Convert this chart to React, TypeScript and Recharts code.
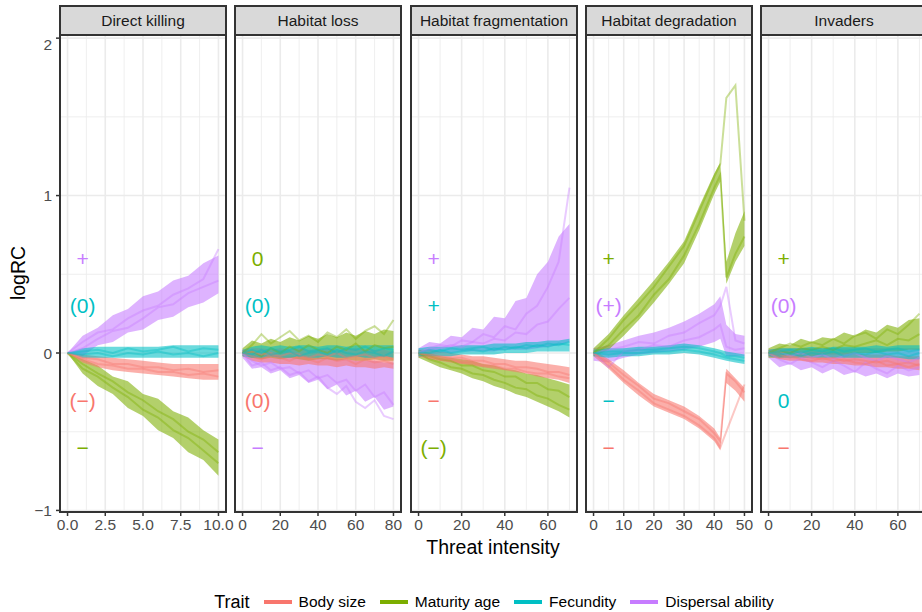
import { ComposedChart, Area, Line, XAxis, YAxis, CartesianGrid, ReferenceDot } from 'recharts';

// ggplot default hue palette for 4 groups
const COLORS: Record<string, string> = {
    body: '#F8766D',
    maturity: '#7CAE00',
    fecundity: '#00BFC4',
    dispersal: '#C77CFF',
};
const TRAIT_NAMES: Record<string, string> = {
    body: 'Body size',
    maturity: 'Maturity age',
    fecundity: 'Fecundity',
    dispersal: 'Dispersal ability',
};
const LEGEND_ORDER = ['body', 'maturity', 'fecundity', 'dispersal'];
const DRAW_ORDER = ['dispersal', 'maturity', 'body', 'fecundity'];

const FONT = '"Liberation Sans", Arial, Helvetica, sans-serif';

// y axis
const Y_DOMAIN: [number, number] = [-1.01, 2.02];
const Y_MAJOR = [-1, 0, 1, 2];
const Y_MINOR = [-0.5, 0.5, 1.5];
const LABEL_Y = [0.6, 0.3, -0.3, -0.6];

// each trait: [lower edge, upper edge, replicate 1, replicate 2]

// --- Direct killing
const killX = [0, 1, 2, 3, 4, 5, 6, 7, 8, 9, 10];
const killDisp = [
    [0, -0.02, 0.05, 0.07, 0.13, 0.15, 0.21, 0.23, 0.29, 0.32, 0.38],
    [0, 0.11, 0.16, 0.24, 0.28, 0.36, 0.39, 0.46, 0.49, 0.57, 0.62],
    [0, 0.07, 0.13, 0.15, 0.22, 0.27, 0.3, 0.37, 0.41, 0.47, 0.66],
    [0, 0.03, 0.09, 0.14, 0.16, 0.22, 0.29, 0.31, 0.38, 0.42, 0.46],
];
const killFec = [
    [0, -0.03, -0.03, -0.03, -0.03, -0.03, -0.03, -0.03, -0.03, -0.03, -0.03],
    [0, 0.03, 0.04, 0.04, 0.04, 0.04, 0.04, 0.05, 0.05, 0.05, 0.05],
    [0, 0.01, 0.02, 0.0, 0.03, 0.01, 0.02, 0.04, 0.01, 0.03, 0.02],
    [0, -0.01, 0.0, -0.02, 0.0, -0.01, 0.01, -0.01, 0.0, -0.02, 0.0],
];
const killBody = [
    [0, -0.06, -0.09, -0.11, -0.12, -0.13, -0.14, -0.15, -0.16, -0.17, -0.17],
    [0, -0.01, -0.02, -0.03, -0.04, -0.05, -0.06, -0.07, -0.07, -0.07, -0.07],
    [0, -0.03, -0.04, -0.07, -0.07, -0.09, -0.09, -0.11, -0.1, -0.12, -0.11],
    [0, -0.04, -0.07, -0.08, -0.1, -0.1, -0.12, -0.12, -0.14, -0.13, -0.15],
];
const killMat = [
    [0, -0.13, -0.21, -0.26, -0.35, -0.4, -0.49, -0.54, -0.63, -0.68, -0.78],
    [0, -0.04, -0.08, -0.15, -0.18, -0.26, -0.29, -0.37, -0.41, -0.49, -0.55],
    [0, -0.07, -0.13, -0.18, -0.25, -0.3, -0.37, -0.42, -0.5, -0.55, -0.63],
    [0, -0.1, -0.15, -0.22, -0.28, -0.36, -0.41, -0.49, -0.54, -0.62, -0.7],
];

// --- Habitat loss
const lossX = [0, 5, 10, 15, 20, 25, 30, 35, 40, 45, 50, 55, 60, 65, 70, 75, 80];
const lossMat = [
    [-0.02, -0.03, -0.04, -0.03, -0.04, -0.03, -0.04, -0.05, -0.04, -0.04, -0.05, -0.04, -0.05, -0.05, -0.04, -0.05, -0.05],
    [0.03, 0.08, 0.06, 0.09, 0.07, 0.1, 0.08, 0.11, 0.09, 0.12, 0.1, 0.13, 0.11, 0.14, 0.12, 0.15, 0.14],
    [0, 0.05, 0.12, 0.06, 0.1, 0.14, 0.08, 0.11, 0.07, 0.13, 0.1, 0.15, 0.09, 0.14, 0.17, 0.12, 0.21],
    [0, 0.01, -0.02, 0.03, 0.0, 0.04, 0.01, 0.05, 0.02, 0.0, 0.04, 0.02, 0.06, 0.01, 0.05, 0.03, 0.04],
];
const lossFec = [
    [-0.02, -0.03, -0.03, -0.02, -0.03, -0.03, -0.02, -0.03, -0.03, -0.02, -0.03, -0.03, -0.02, -0.03, -0.03, -0.02, -0.03],
    [0.02, 0.04, 0.05, 0.04, 0.05, 0.04, 0.05, 0.05, 0.04, 0.05, 0.05, 0.04, 0.05, 0.05, 0.05, 0.05, 0.05],
    [0, 0.02, 0.0, 0.03, 0.01, 0.02, 0.04, 0.01, 0.02, 0.03, 0.0, 0.03, 0.02, 0.04, 0.01, 0.03, 0.02],
    [0, -0.01, 0.02, -0.01, 0.0, 0.01, -0.02, 0.0, 0.01, -0.01, 0.02, 0.0, -0.01, 0.01, 0.0, -0.02, 0.01],
];
const lossBody = [
    [-0.02, -0.05, -0.06, -0.06, -0.07, -0.07, -0.08, -0.07, -0.08, -0.08, -0.09, -0.08, -0.09, -0.09, -0.1, -0.09, -0.1],
    [0.02, 0.03, 0.03, 0.02, 0.03, 0.02, 0.03, 0.02, 0.02, 0.03, 0.02, 0.02, 0.03, 0.02, 0.02, 0.02, 0.01],
    [0, -0.02, -0.04, -0.01, -0.03, -0.05, -0.02, -0.04, -0.06, -0.03, -0.05, -0.04, -0.07, -0.04, -0.06, -0.05, -0.07],
    [0, 0.01, -0.01, 0.0, -0.02, 0.0, -0.01, -0.03, -0.01, -0.02, 0.0, -0.03, -0.02, -0.01, -0.03, -0.02, -0.04],
];
const lossDisp = [
    [-0.03, -0.1, -0.09, -0.13, -0.11, -0.16, -0.14, -0.19, -0.17, -0.23, -0.2, -0.27, -0.24, -0.31, -0.28, -0.36, -0.34],
    [0.02, 0.0, -0.01, -0.01, -0.02, -0.02, -0.02, -0.03, -0.03, -0.03, -0.04, -0.04, -0.05, -0.05, -0.05, -0.06, -0.06],
    [0, -0.05, -0.08, -0.06, -0.1, -0.09, -0.13, -0.11, -0.16, -0.14, -0.19, -0.17, -0.24, -0.2, -0.28, -0.25, -0.33],
    [0, -0.08, -0.06, -0.11, -0.09, -0.14, -0.12, -0.18, -0.15, -0.22, -0.26, -0.21, -0.31, -0.35, -0.3, -0.4, -0.42],
];

// --- Habitat fragmentation
const fragX = [0, 5, 10, 15, 20, 25, 30, 35, 40, 45, 50, 55, 60, 65, 70];
const fragFec = [
    [-0.02, -0.02, -0.02, -0.02, -0.01, -0.01, -0.01, -0.01, 0.0, 0.0, 0.0, 0.01, 0.01, 0.01, 0.01],
    [0.03, 0.04, 0.04, 0.04, 0.05, 0.05, 0.05, 0.06, 0.06, 0.06, 0.07, 0.07, 0.08, 0.08, 0.09],
    [0, 0.02, 0.01, 0.03, 0.02, 0.03, 0.04, 0.02, 0.04, 0.03, 0.05, 0.04, 0.06, 0.05, 0.07],
    [0, 0.0, 0.02, 0.0, 0.01, 0.02, 0.01, 0.03, 0.02, 0.04, 0.03, 0.05, 0.04, 0.06, 0.05],
];
const fragBody = [
    [-0.02, -0.04, -0.05, -0.06, -0.07, -0.08, -0.09, -0.1, -0.11, -0.12, -0.13, -0.15, -0.16, -0.17, -0.19],
    [0.02, 0.02, 0.01, 0.0, -0.01, -0.02, -0.02, -0.03, -0.04, -0.05, -0.05, -0.06, -0.07, -0.08, -0.09],
    [0, -0.01, -0.02, -0.03, -0.03, -0.05, -0.05, -0.07, -0.07, -0.09, -0.09, -0.1, -0.12, -0.12, -0.14],
    [0, -0.02, -0.04, -0.04, -0.06, -0.06, -0.08, -0.08, -0.1, -0.1, -0.12, -0.13, -0.13, -0.15, -0.16],
];
const fragMat = [
    [-0.03, -0.06, -0.09, -0.11, -0.13, -0.16, -0.18, -0.21, -0.23, -0.26, -0.28, -0.31, -0.34, -0.37, -0.41],
    [0.02, 0.0, -0.02, -0.03, -0.04, -0.05, -0.07, -0.08, -0.1, -0.11, -0.13, -0.14, -0.16, -0.18, -0.2],
    [0, -0.02, -0.04, -0.05, -0.08, -0.08, -0.11, -0.12, -0.15, -0.15, -0.19, -0.19, -0.23, -0.24, -0.28],
    [0, -0.04, -0.06, -0.09, -0.1, -0.13, -0.14, -0.17, -0.19, -0.22, -0.23, -0.27, -0.29, -0.33, -0.36],
];
const fragDisp = [
    [-0.03, -0.01, 0.0, 0.0, 0.01, 0.01, 0.01, 0.01, 0.02, 0.02, 0.02, 0.03, 0.04, 0.05, 0.07],
    [0.03, 0.07, 0.06, 0.11, 0.1, 0.16, 0.15, 0.23, 0.22, 0.33, 0.35, 0.5, 0.58, 0.74, 0.82],
    [0, 0.03, 0.05, 0.04, 0.08, 0.07, 0.12, 0.1, 0.17, 0.15, 0.25, 0.3, 0.42, 0.58, 1.05],
    [0, 0.02, 0.03, 0.05, 0.04, 0.07, 0.06, 0.09, 0.08, 0.13, 0.12, 0.18, 0.2, 0.28, 0.35],
];

// --- Habitat degradation
const degX = [0, 5, 10, 15, 20, 25, 30, 35, 40, 42, 44, 47, 50];
const degMat = [
    [-0.02, 0.02, 0.11, 0.21, 0.32, 0.44, 0.57, 0.78, 1.01, 1.09, 0.44, 0.58, 0.68],
    [0.03, 0.12, 0.24, 0.35, 0.46, 0.58, 0.71, 0.93, 1.14, 1.21, 0.58, 0.76, 0.9],
    [0, 0.05, 0.15, 0.24, 0.37, 0.47, 0.62, 0.82, 1.05, 1.13, 0.48, 0.63, 0.74],
    [0, 0.09, 0.21, 0.31, 0.42, 0.55, 0.68, 0.9, 1.12, 1.2, 1.62, 1.7, 0.84],
];
const degBody = [
    [-0.02, -0.1, -0.19, -0.27, -0.34, -0.38, -0.42, -0.48, -0.56, -0.62, -0.19, -0.24, -0.31],
    [0.02, -0.04, -0.11, -0.19, -0.26, -0.3, -0.34, -0.4, -0.48, -0.54, -0.1, -0.16, -0.22],
    [0, -0.06, -0.14, -0.21, -0.29, -0.32, -0.37, -0.42, -0.51, -0.56, -0.13, -0.18, -0.25],
    [0, -0.08, -0.17, -0.24, -0.32, -0.36, -0.4, -0.46, -0.54, -0.6, -0.5, -0.35, -0.2],
];
const degFec = [
    [-0.02, -0.03, -0.02, -0.02, -0.01, -0.01, 0.0, -0.01, -0.03, -0.04, -0.05, -0.06, -0.07],
    [0.02, 0.03, 0.03, 0.04, 0.04, 0.05, 0.06, 0.05, 0.03, 0.02, 0.01, 0.0, -0.01],
    [0, 0.01, 0.01, 0.02, 0.02, 0.03, 0.04, 0.03, 0.01, 0.0, -0.02, -0.02, -0.03],
    [0, -0.01, 0.0, 0.0, 0.01, 0.01, 0.02, 0.01, -0.01, -0.02, -0.03, -0.04, -0.05],
];
const degDisp = [
    [-0.05, -0.06, -0.03, -0.01, 0.0, 0.01, 0.02, 0.04, 0.07, 0.09, -0.02, -0.02, -0.02],
    [0.03, 0.05, 0.08, 0.11, 0.13, 0.16, 0.2, 0.25, 0.31, 0.36, 0.18, 0.12, 0.11],
    [0, 0.02, 0.04, 0.07, 0.06, 0.11, 0.13, 0.19, 0.24, 0.3, 0.42, 0.08, 0.06],
    [0, -0.09, 0.01, 0.02, 0.05, 0.04, 0.08, 0.1, 0.15, 0.18, 0.04, 0.02, 0.03],
];

// --- Invaders
const invX = [0, 5, 10, 15, 20, 25, 30, 35, 40, 45, 50, 55, 60, 65, 70];
const invMat = [
    [-0.03, -0.03, -0.02, -0.02, -0.02, -0.01, -0.01, -0.01, 0.0, 0.0, 0.0, 0.01, 0.01, 0.02, 0.02],
    [0.03, 0.06, 0.05, 0.09, 0.07, 0.1, 0.09, 0.13, 0.11, 0.15, 0.13, 0.18, 0.16, 0.21, 0.22],
    [0, 0.03, 0.06, 0.04, 0.07, 0.05, 0.09, 0.06, 0.11, 0.13, 0.09, 0.15, 0.12, 0.18, 0.25],
    [0, 0.01, 0.0, 0.03, 0.02, 0.04, 0.02, 0.05, 0.04, 0.06, 0.08, 0.05, 0.09, 0.08, 0.12],
];
const invFec = [
    [-0.02, -0.03, -0.03, -0.03, -0.03, -0.03, -0.03, -0.03, -0.03, -0.03, -0.03, -0.03, -0.03, -0.04, -0.04],
    [0.02, 0.03, 0.03, 0.03, 0.04, 0.03, 0.04, 0.04, 0.04, 0.04, 0.05, 0.04, 0.05, 0.05, 0.05],
    [0, 0.01, 0.02, 0.0, 0.02, 0.01, 0.03, 0.01, 0.02, 0.03, 0.01, 0.02, 0.03, 0.01, 0.02],
    [0, -0.01, 0.0, -0.02, 0.0, -0.01, 0.01, -0.02, 0.0, -0.01, 0.01, -0.01, 0.0, -0.02, 0.0],
];
const invBody = [
    [-0.02, -0.04, -0.05, -0.05, -0.06, -0.06, -0.07, -0.07, -0.08, -0.08, -0.09, -0.09, -0.1, -0.1, -0.11],
    [0.02, 0.02, 0.02, 0.01, 0.01, 0.01, 0.0, 0.0, 0.0, -0.01, -0.01, -0.01, -0.02, -0.02, -0.02],
    [0, -0.01, -0.03, -0.02, -0.03, -0.04, -0.03, -0.05, -0.04, -0.05, -0.06, -0.05, -0.07, -0.06, -0.08],
    [0, -0.03, -0.02, -0.04, -0.05, -0.03, -0.05, -0.04, -0.06, -0.07, -0.05, -0.08, -0.07, -0.09, -0.07],
];
const invDisp = [
    [-0.03, -0.09, -0.07, -0.11, -0.09, -0.13, -0.1, -0.14, -0.12, -0.15, -0.13, -0.16, -0.13, -0.15, -0.14],
    [0.02, 0.03, 0.03, 0.03, 0.03, 0.03, 0.03, 0.03, 0.03, 0.03, 0.03, 0.03, 0.03, 0.03, 0.03],
    [0, -0.04, -0.07, -0.03, -0.06, -0.09, -0.05, -0.08, -0.12, -0.06, -0.1, -0.13, -0.08, -0.11, -0.09],
    [0, 0.01, -0.02, 0.0, -0.03, -0.01, -0.04, -0.02, 0.0, -0.03, -0.05, -0.02, -0.04, -0.06, -0.03],
];

// effect labels, top to bottom
const killLabels = [['+', 'dispersal'], ['(0)', 'fecundity'], ['(\u2212)', 'body'], ['\u2212', 'maturity']];
const lossLabels = [['0', 'maturity'], ['(0)', 'fecundity'], ['(0)', 'body'], ['\u2212', 'dispersal']];
const fragLabels = [['+', 'dispersal'], ['+', 'fecundity'], ['\u2212', 'body'], ['(\u2212)', 'maturity']];
const degLabels = [['+', 'maturity'], ['(+)', 'dispersal'], ['\u2212', 'fecundity'], ['\u2212', 'body']];
const invLabels = [['+', 'maturity'], ['(0)', 'dispersal'], ['0', 'fecundity'], ['\u2212', 'body']];

const panels = [
    {
        title: 'Direct killing', x: killX, domain: [-0.5, 10.5], ticks: [0, 2.5, 5, 7.5, 10],
        minor: [1.25, 3.75, 6.25, 8.75], labelX: 1, labels: killLabels, dec: 1,
        series: { body: killBody, maturity: killMat, fecundity: killFec, dispersal: killDisp },
    },
    {
        title: 'Habitat loss', x: lossX, domain: [-4, 84], ticks: [0, 20, 40, 60, 80],
        minor: [10, 30, 50, 70], labelX: 8, labels: lossLabels, dec: 0,
        series: { body: lossBody, maturity: lossMat, fecundity: lossFec, dispersal: lossDisp },
    },
    {
        title: 'Habitat fragmentation', x: fragX, domain: [-3.5, 73.5], ticks: [0, 20, 40, 60],
        minor: [10, 30, 50, 70], labelX: 7, labels: fragLabels, dec: 0,
        series: { body: fragBody, maturity: fragMat, fecundity: fragFec, dispersal: fragDisp },
    },
    {
        title: 'Habitat degradation', x: degX, domain: [-2.5, 52.5], ticks: [0, 10, 20, 30, 40, 50],
        minor: [5, 15, 25, 35, 45], labelX: 5, labels: degLabels, dec: 0,
        series: { body: degBody, maturity: degMat, fecundity: degFec, dispersal: degDisp },
    },
    {
        title: 'Invaders', x: invX, domain: [-3.5, 73.5], ticks: [0, 20, 40, 60],
        minor: [10, 30, 50, 70], labelX: 7, labels: invLabels, dec: 0,
        series: { body: invBody, maturity: invMat, fecundity: invFec, dispersal: invDisp },
    },
];

// layout (px)
const PANEL_LEFT = [60, 235, 411, 586, 761];
const PANEL_W = 166;
const PLOT_TOP = 35;
const PLOT_H = 477;
const X_AXIS_H = 30;
const Y_AXIS_W = 45;
const SIDE = 10;
const RIGHT = 20;

function buildRows(xs: number[], series: Record<string, number[][]>) {
    return xs.map((x, i) => {
        const row: Record<string, any> = { x };
        DRAW_ORDER.forEach(t => {
            const [lo, hi, r1, r2] = series[t];
            row[t + 'Band'] = [lo[i], hi[i]];
            row[t + 'R1'] = r1[i];
            row[t + 'R2'] = r2[i];
        });
        return row;
    });
}

const fmtY = (v: number) => (v < 0 ? '\u2212' + Math.abs(v) : String(v));

function Panel({ p, idx }: { p: any; idx: number }) {
    const first = idx === 0;
    const rows = buildRows(p.x, p.series);
    const leftPad = first ? Y_AXIS_W : SIDE;
    const chartLeft = PANEL_LEFT[idx] - leftPad;
    const width = leftPad + PANEL_W + RIGHT;
    const tickStyle = { fill: '#4d4d4d', fontSize: 15.5, fontFamily: FONT };

    return (
        <div style={{ position: 'absolute', left: chartLeft, top: PLOT_TOP }}>
            <ComposedChart
                width={width}
                height={PLOT_H + X_AXIS_H}
                data={rows}
                margin={{ top: 0, right: RIGHT, bottom: 0, left: first ? 0 : SIDE }}
            >
                <XAxis
                    type="number"
                    dataKey="x"
                    domain={p.domain}
                    ticks={p.ticks}
                    allowDataOverflow
                    interval={0}
                    height={X_AXIS_H}
                    axisLine={false}
                    tickSize={4}
                    tickMargin={3}
                    tickLine={{ stroke: '#333', strokeWidth: 1.5 }}
                    tick={tickStyle}
                    tickFormatter={(v: number) => v.toFixed(p.dec)}
                />
                {first ? (
                    <YAxis
                        type="number"
                        domain={Y_DOMAIN}
                        ticks={Y_MAJOR}
                        allowDataOverflow
                        width={Y_AXIS_W}
                        axisLine={false}
                        tickSize={4}
                        tickMargin={4}
                        tickLine={{ stroke: '#333', strokeWidth: 1.5 }}
                        tick={tickStyle}
                        tickFormatter={fmtY}
                    />
                ) : (
                    <YAxis type="number" domain={Y_DOMAIN} allowDataOverflow hide />
                )}
                <CartesianGrid stroke="#ebebeb" strokeWidth={0.8} horizontalValues={Y_MINOR} verticalValues={p.minor} />
                <CartesianGrid stroke="#ebebeb" strokeWidth={1.6} horizontalValues={Y_MAJOR} verticalValues={p.ticks} />
                {DRAW_ORDER.map(t => (
                    <Area
                        key={t + 'Band'}
                        type="linear"
                        dataKey={t + 'Band'}
                        stroke="none"
                        fill={COLORS[t]}
                        fillOpacity={0.58}
                        dot={false}
                        activeDot={false}
                        isAnimationActive={false}
                    />
                ))}
                {DRAW_ORDER.flatMap(t => ['R1', 'R2'].map(r => (
                    <Line
                        key={t + r}
                        type="linear"
                        dataKey={t + r}
                        stroke={COLORS[t]}
                        strokeOpacity={0.4}
                        strokeWidth={2}
                        dot={false}
                        activeDot={false}
                        isAnimationActive={false}
                    />
                )))}
                {p.labels.map(([txt, trait]: string[], k: number) => (
                    <ReferenceDot
                        key={'lab' + k}
                        x={p.labelX}
                        y={LABEL_Y[k]}
                        r={0}
                        ifOverflow="visible"
                        shape={(props: any) => (
                            <text
                                x={props.cx}
                                y={props.cy}
                                dy="0.36em"
                                textAnchor="middle"
                                fill={COLORS[trait]}
                                fontSize={21}
                                fontFamily={FONT}
                            >
                                {txt}
                            </text>
                        )}
                    />
                ))}
            </ComposedChart>
        </div>
    );
}

export default function App() {
    return (
        <div style={{ position: 'absolute', left: 0, top: 0, width: 922, height: 612, overflow: 'hidden', background: '#fff', fontFamily: FONT }}>
            {panels.map((p, i) => (
                <Panel key={p.title} p={p} idx={i} />
            ))}
            {panels.map((p, i) => (
                <div key={'strip' + i}>
                    <div
                        style={{
                            position: 'absolute', left: PANEL_LEFT[i] - 1, top: 5, width: PANEL_W + 2, height: 31,
                            boxSizing: 'border-box', border: '2px solid #333', background: '#d9d9d9',
                            color: '#1a1a1a', fontSize: 15.5, lineHeight: '27px', textAlign: 'center', whiteSpace: 'nowrap',
                        }}
                    >
                        {p.title}
                    </div>
                    <div
                        style={{
                            position: 'absolute', left: PANEL_LEFT[i] - 1, top: PLOT_TOP - 1, width: PANEL_W + 2, height: PLOT_H + 2,
                            boxSizing: 'border-box', border: '2px solid #333', pointerEvents: 'none',
                        }}
                    />
                </div>
            ))}
            <div
                style={{
                    position: 'absolute', left: 18, top: 273, transform: 'translate(-50%, -50%) rotate(-90deg)',
                    fontSize: 19.5, color: '#000', whiteSpace: 'nowrap',
                }}
            >
                logRC
            </div>
            <div
                style={{
                    position: 'absolute', left: 493, top: 537, transform: 'translateX(-50%)',
                    fontSize: 19.5, lineHeight: '20px', color: '#000', whiteSpace: 'nowrap',
                }}
            >
                Threat intensity
            </div>
            <div
                style={{
                    position: 'absolute', left: 0, top: 592, width: 988, height: 20,
                    display: 'flex', justifyContent: 'center', alignItems: 'center', color: '#000',
                }}
            >
                <span style={{ fontSize: 18 }}>Trait</span>
                {LEGEND_ORDER.map(t => (
                    <span key={t} style={{ display: 'flex', alignItems: 'center' }}>
                        <span style={{ display: 'inline-block', width: 28, height: 4, background: COLORS[t], marginLeft: 14 }} />
                        <span style={{ marginLeft: 7, fontSize: 15.5 }}>{TRAIT_NAMES[t]}</span>
                    </span>
                ))}
            </div>
        </div>
    );
}
